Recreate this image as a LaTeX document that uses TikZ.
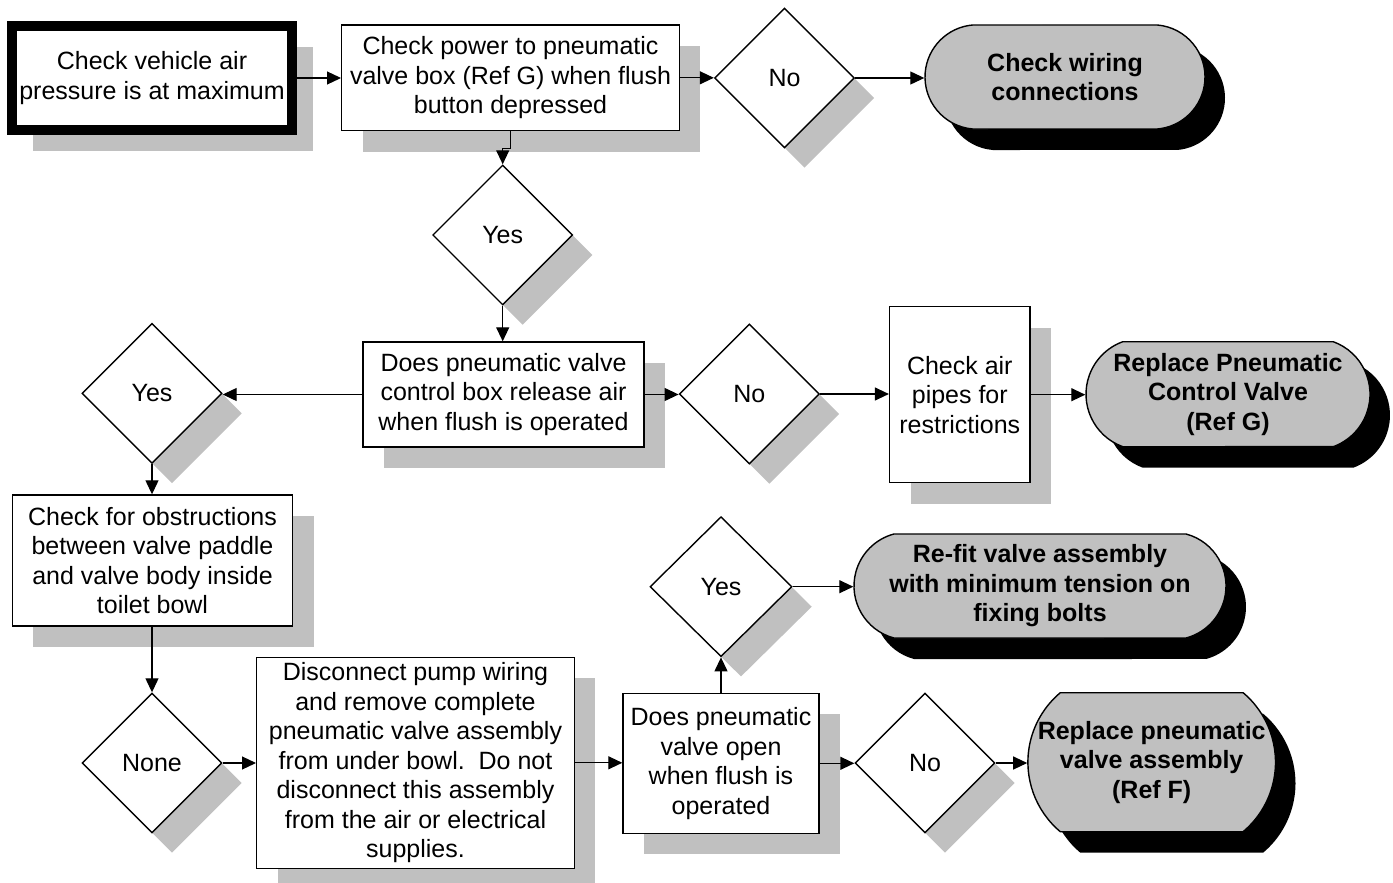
\documentclass[tikz,border=0pt]{standalone}
\usepackage{fontspec}
\setmainfont{Liberation Sans}
\usetikzlibrary{arrows.meta,shapes.geometric,shapes.misc,shadows}
\definecolor{shgray}{HTML}{C0C0C0}
\begin{document}
\begin{tikzpicture}[x=1pt,y=-1pt,
  every node/.style={font=\fontsize{25}{29.5}\selectfont, align=center, inner sep=0pt},
  procbox/.style={rectangle, draw, fill=white, line width=1.4pt,
    drop shadow={shadow xshift=21pt,shadow yshift=-21pt,fill=shgray,opacity=1}},
  decision/.style={diamond, draw, fill=white, line width=1.4pt,
    minimum width=140pt, minimum height=140pt,
    drop shadow={shadow xshift=20pt,shadow yshift=-20pt,fill=shgray,opacity=1}},
  terminal/.style={rounded rectangle, draw, fill=shgray, line width=1.4pt,
    font=\fontsize{25}{29.5}\selectfont\bfseries,
    drop shadow={shadow xshift=20pt,shadow yshift=-21pt,fill=black,opacity=1}},
  flow/.style={line width=1.2pt, -{Triangle[length=14pt,width=13pt]}},
]
\useasboundingbox (0,0) rectangle (1393,883);

% top row
\node[procbox, line width=10pt, minimum width=280pt, minimum height=104pt] (air) at (152,78)
  {Check vehicle air\\pressure is at maximum};
\node[procbox, minimum width=337.6pt, minimum height=105.7pt] (power) at (510.5,77.8)
  {Check power to pneumatic\\valve box (Ref G) when flush\\button depressed};
\node[decision] (no1) at (784.5,78) {No};
\node[terminal, minimum width=280pt, minimum height=104pt, rounded rectangle arc length=170] (wiring) at (1065,77)
  {Check wiring\\connections};

% second row
\node[decision] (yes1) at (502.7,235) {Yes};
\node[procbox, minimum width=281pt, minimum height=105pt] (release) at (503.5,394.5)
  {Does pneumatic valve\\control box release air\\when flush is operated};
\node[decision] (no2) at (749.3,394) {No};
\node[procbox, minimum width=140.4pt, minimum height=176pt] (pipes) at (959.8,394.7)
  {Check air\\pipes for\\restrictions};
\node[terminal, minimum width=284pt, minimum height=105pt, rounded rectangle arc length=140] (ctrl) at (1228,394.2)
  {Replace Pneumatic\\Control Valve\\(Ref G)};
\node[decision] (yes2) at (152,393.3) {Yes};

% lower part
\node[procbox, minimum width=280.4pt, minimum height=131pt] (obstr) at (152.5,560.5)
  {Check for obstructions\\between valve paddle\\and valve body inside\\toilet bowl};
\node[decision] (none) at (152,763) {None};
\node[procbox, minimum width=317.6pt, minimum height=211pt] (remove) at (415.5,762.8)
  {Disconnect pump wiring\\and remove complete\\pneumatic valve assembly\\from under bowl.\ \ Do not\\disconnect this assembly\\from the air or electrical\\supplies.};
\node[procbox, minimum width=196pt, minimum height=140pt] (opens) at (721,763.3)
  {Does pneumatic\\valve open\\when flush is\\operated};
\node[decision, minimum width=142pt] (yes3) at (721,586.7) {Yes};
\node[terminal, minimum width=372pt, minimum height=104pt, rounded rectangle arc length=150] (refit) at (1040,586)
  {Re-fit valve assembly\\with minimum tension on\\fixing bolts};
\node[decision] (no3) at (925,763) {No};
\node[terminal, minimum width=246pt, minimum height=139pt, rounded rectangle arc length=100] (valve) at (1151.7,762.2)
  {Replace pneumatic\\valve assembly\\(Ref F)};

% connectors
\draw[flow] (air.east) -- (air.east -| power.west);
\draw[flow] (power.east) -- (power.east -| no1.west);
\draw[flow] (no1.east) -- (no1.east -| wiring.west);
\draw[flow] (power.south) -- ++(0,17) -| (yes1.north);
\draw[flow] (yes1.south) -- (yes1.south |- release.north);
\draw[flow] (release.east) -- (release.east -| no2.west);
\draw[flow] (no2.east) -- (no2.east -| pipes.west);
\draw[flow] (pipes.east) -- (pipes.east -| ctrl.west);
\draw[flow] (release.west) -- (release.west -| yes2.east);
\draw[flow] (yes2.south) -- (yes2.south |- obstr.north);
\draw[flow] (obstr.south -| none.north) -- (none.north);
\draw[flow] (none.east) -- (none.east -| remove.west);
\draw[flow] (remove.east) -- (remove.east -| opens.west);
\draw[flow] (opens.north) -- (yes3.south);
\draw[flow] (yes3.east) -- (yes3.east -| refit.west);
\draw[flow] (opens.east) -- (opens.east -| no3.west);
\draw[flow] (no3.east) -- (no3.east -| valve.west);
\end{tikzpicture}
\end{document}
